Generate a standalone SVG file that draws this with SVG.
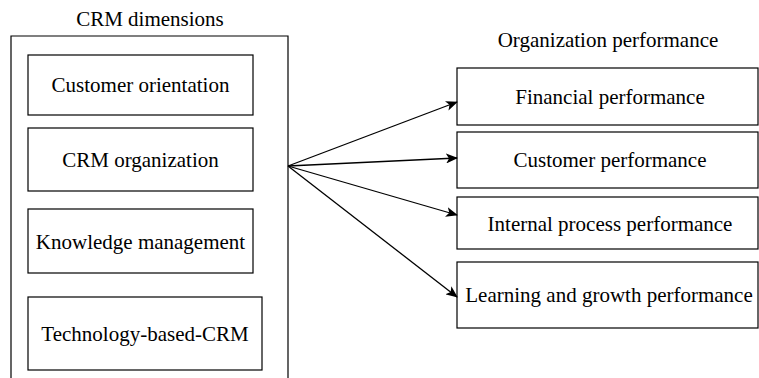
<svg xmlns="http://www.w3.org/2000/svg" width="759" height="378" viewBox="0 0 759 378">
<style>
text{font-family:"Liberation Serif","Times New Roman",serif;font-size:21px;fill:#000;text-anchor:middle}
.box{fill:#fff;stroke:#000;stroke-width:1.2}
.conn{stroke:#000;stroke-width:1.3;fill:none;marker-end:url(#ah)}
</style>
<defs>
<marker id="ah" markerWidth="12" markerHeight="10" refX="11" refY="5" orient="auto" markerUnits="userSpaceOnUse">
<path d="M0,0 L12,5 L0,10 L3,5 Z" fill="#000"/>
</marker>
</defs>
<g id="crm-dimensions">
<text x="150" y="26">CRM dimensions</text>
<path class="box" d="M11,378 L11,36 L288,36 L288,378" fill="none"/>
</g>
<g id="customer-orientation"><rect class="box" x="28" y="55" width="225" height="60"/><text x="140.5" y="92">Customer orientation</text></g>
<g id="crm-organization"><rect class="box" x="28" y="128" width="225" height="63"/><text x="140.5" y="167">CRM organization</text></g>
<g id="knowledge-management"><rect class="box" x="28" y="209" width="225" height="64"/><text x="140.5" y="249">Knowledge management</text></g>
<g id="technology-based-crm"><rect class="box" x="28" y="297" width="234" height="73"/><text x="145" y="341">Technology-based-CRM</text></g>
<g id="organization-performance"><text x="608" y="47">Organization performance</text></g>
<g id="financial"><rect class="box" x="457" y="68" width="301" height="57"/><text x="610" y="104">Financial performance</text></g>
<g id="customer"><rect class="box" x="457" y="132" width="301" height="56"/><text x="610" y="167">Customer performance</text></g>
<g id="internal"><rect class="box" x="457" y="197" width="301" height="52"/><text x="610" y="231">Internal process performance</text></g>
<g id="learning"><rect class="box" x="457" y="262" width="301" height="66"/><text x="609" y="302">Learning and growth performance</text></g>
<g id="connectors">
<line class="conn" x1="288" y1="166" x2="457" y2="102"/>
<line class="conn" x1="288" y1="166" x2="457" y2="158"/>
<line class="conn" x1="288" y1="166" x2="457" y2="215"/>
<line class="conn" x1="288" y1="166" x2="457" y2="297"/>
</g>
</svg>
